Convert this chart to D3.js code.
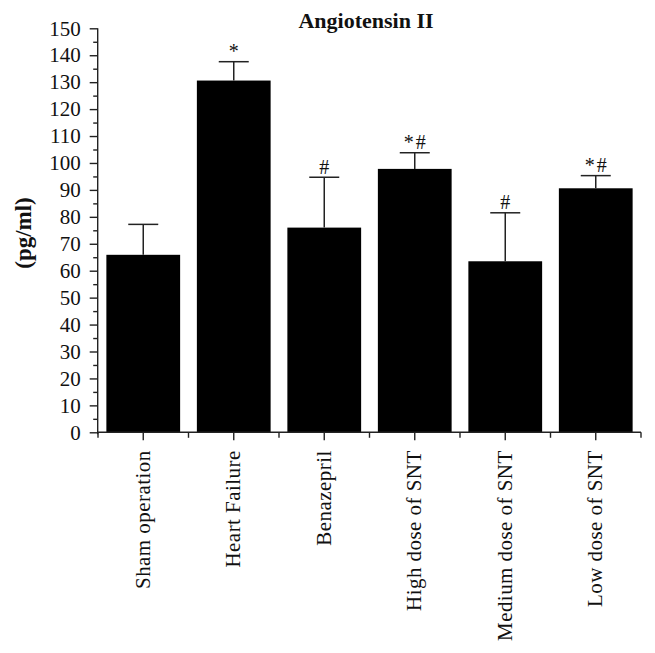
<!DOCTYPE html>
<html>
<head>
<meta charset="utf-8">
<script src="https://cdn.jsdelivr.net/npm/d3@7"></script>
<style>
  html, body { margin: 0; padding: 0; background: #fff; }
  text { font-family: "Liberation Serif", "DejaVu Serif", serif; fill: #111; }
</style>
</head>
<body>
<svg id="chart" width="655" height="653"></svg>
<script>
const categories = ["Sham operation", "Heart Failure", "Benazepril", "High dose of SNT", "Medium dose of SNT", "Low dose of SNT"];
const means = [65.9, 130.6, 76.0, 97.8, 63.5, 90.6];
const errors = [11.3, 7.0, 18.7, 6.0, 18.0, 4.7];
const marks = ["", "*", "#", "*#", "#", "*#"];
const yTicks = [0, 10, 20, 30, 40, 50, 60, 70, 80, 90, 100, 110, 120, 130, 140, 150];
const title = "Angiotensin II";
const yLabel = "(pg/ml)";

const svg = d3.select("#chart");
const axisColor = "#222";

const y = d3.scaleLinear().domain([0, 150]).range([432.3, 28.3]);
const x = d3.scaleBand().domain(categories).range([98, 641]).padding(0);
const barFrac = 0.815;
const capW = 30;

// Bars
svg.append("g").selectAll("rect").data(categories).join("rect")
  .attr("x", (d) => x(d) + x.bandwidth() * (1 - barFrac) / 2)
  .attr("width", x.bandwidth() * barFrac)
  .attr("y", (d, i) => y(means[i]))
  .attr("height", (d, i) => y(0) - y(means[i]))
  .attr("fill", "#000");

// Error bars (upper only)
const eg = svg.append("g").attr("stroke", axisColor).attr("stroke-width", 1.5);
categories.forEach((c, i) => {
  const cx = x(c) + x.bandwidth() / 2;
  eg.append("line").attr("x1", cx).attr("x2", cx)
    .attr("y1", y(means[i])).attr("y2", y(means[i] + errors[i]));
  eg.append("line").attr("x1", cx - capW / 2).attr("x2", cx + capW / 2)
    .attr("y1", y(means[i] + errors[i])).attr("y2", y(means[i] + errors[i]));
});

// Significance marks
svg.append("g").selectAll("text").data(categories).join("text")
  .attr("x", (d) => x(d) + x.bandwidth() / 2 + 1)
  .attr("y", (d, i) => y(means[i] + errors[i]) - 3.5)
  .attr("text-anchor", "middle")
  .style("font-size", "20px")
  .style("letter-spacing", "2px")
  .text((d, i) => marks[i]);

// Y axis: minor ticks
const yMinor = svg.append("g").attr("transform", "translate(97.7,0)")
  .call(d3.axisLeft(y).tickValues(d3.range(5, 150, 10)).tickSize(4.5).tickFormat(""));
// Y axis: major
const yAxis = svg.append("g").attr("transform", "translate(97.7,0)")
  .call(d3.axisLeft(y).tickValues(yTicks).tickSize(8).tickPadding(9).tickFormat(d3.format("d")));
[yMinor, yAxis].forEach(g => {
  g.select(".domain").attr("stroke", axisColor).attr("stroke-width", 1.4);
  g.selectAll(".tick line").attr("stroke", axisColor).attr("stroke-width", 1.4);
});
yMinor.select(".domain").remove();
yAxis.select(".domain").attr("d", `M0,${y(150)}V${y(0) + 2}`);
yAxis.selectAll(".tick text").style("font-size", "21px").style("fill", "#111");

// X axis
const xAxis = svg.append("g").attr("transform", `translate(0,${y(0)})`)
  .call(d3.axisBottom(x).tickSize(8).tickPadding(12));
xAxis.select(".domain").attr("d", `M${x.range()[0]},0H${x.range()[1]}`)
  .attr("stroke", axisColor).attr("stroke-width", 1.4);
xAxis.selectAll(".tick line").attr("stroke", axisColor).attr("stroke-width", 1.4);
xAxis.selectAll(".tick text")
  .style("font-size", "21px")
  .style("letter-spacing", "0.45px")
  .style("fill", "#111")
  .attr("text-anchor", "end")
  .attr("transform", "rotate(-90)")
  .attr("x", -18)
  .attr("y", 0)
  .attr("dy", "0.3em");

// Boundary minor ticks on x axis
const bounds = categories.map(c => x(c)).concat([x.range()[1]]);
svg.append("g").selectAll("line").data(bounds).join("line")
  .attr("x1", d => d).attr("x2", d => d)
  .attr("y1", y(0)).attr("y2", y(0) + 5.5)
  .attr("stroke", axisColor).attr("stroke-width", 1.4);

// Title
svg.append("text")
  .attr("x", 366).attr("y", 28)
  .attr("text-anchor", "middle")
  .style("font-size", "22px")
  .style("font-weight", "bold")
  .text(title);

// Y label
svg.append("text")
  .attr("transform", "translate(31,233) rotate(-90)")
  .attr("text-anchor", "middle")
  .style("font-size", "23px")
  .style("font-weight", "bold")
  .text(yLabel);
</script>
</body>
</html>
